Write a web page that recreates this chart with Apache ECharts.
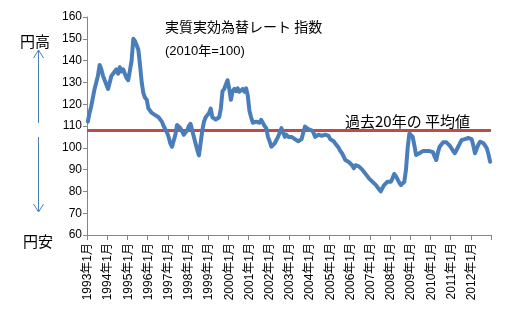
<!DOCTYPE html>
<html>
<head>
<meta charset="utf-8">
<script src="https://cdn.jsdelivr.net/npm/echarts@6/dist/echarts.min.js"></script>
<style>
html,body{margin:0;padding:0;background:#fff;}
#c{width:507px;height:323px;}
</style>
</head>
<body>
<div id="c"></div>
<script>
// Years covered (monthly data, Jan 1993 - Dec 2012)
var years = [1993,1994,1995,1996,1997,1998,1999,2000,2001,2002,2003,2004,2005,2006,2007,2008,2009,2010,2011,2012];
var v1993 = [112,116,119,123,127,130,133,138,136,133,131,129];
var v1994 = [127,130,133,134,135,136,134,137,135,136,134,132];
var v1995 = [131,131,140,150,149,147,145,138,130,125,123,122];
var v1996 = [118,117,116,115.8,115,114.3,114,113,112,110,109.7,107];
var v1997 = [105,102,100.5,101,106,110.5,110,109,108.2,106,106.5,108];
var v1998 = [110,111,108,105,102,99,96.5,97,108,112,114,115];
var v1999 = [116,118,114,113.5,113,113,114,118,126,127,129,131];
var v2000 = [127,122,126,127,126,127.3,125.7,126,127,125.7,127.3,124];
var v2001 = [117,114,111.5,111,112,111.2,111.5,112.8,112,110,109,105];
var v2002 = [103,100.5,101,102,102.8,105,107,109,107,105,106,105];
var v2003 = [105,105,104.5,104,104,103,102.1,104,107,109.7,109,108.5];
var v2004 = [108.2,108,107,105,105.5,106,106.6,105.5,105.1,106,106.6,105.5];
var v2005 = [104,103.6,103,102,101.3,100,98.5,97.5,96,94.4,94,93.5];
var v2006 = [93,92,90.6,92,92.9,91.5,90.6,90,89,88.3,87,86];
var v2007 = [85.2,84.5,84.4,83,82.2,81,80,81.5,82.9,83.5,84.4,84];
var v2008 = [84.4,86,88,87,85.5,84,82.9,83.5,84.4,90,100,106.6];
var v2009 = [106,105,101,96.7,97,97.5,98,98.5,99,98.5,98.2,98.5];
var v2010 = [99,98,96,94.4,98,100.5,101.5,102.5,102.8,102.5,102.1,101];
var v2011 = [99.8,98.5,97.5,99,100.5,102,103.5,104.4,104,104.4,104.5,105.1];
var v2012 = [104,101,97.5,99.5,101.5,102.8,102.5,102.1,101,99.8,97,93.6];
// 20-year average
var avg20 = 108;
// y-axis ticks
var yMin = 60, yMax = 160, yStep = 10;

var values = [].concat(v1993,v1994,v1995,v1996,v1997,v1998,v1999,v2000,v2001,v2002,
  v2003,v2004,v2005,v2006,v2007,v2008,v2009,v2010,v2011,v2012);
var categories = [];
years.forEach(function(y){ for (var m=1;m<=12;m++) categories.push(y+'年'+m+'月'); });

var FONT = '"Liberation Sans","Noto Sans CJK JP",sans-serif';
var JFONT = '"Noto Sans CJK JP",sans-serif';
var chart = echarts.init(document.getElementById('c'), null, {renderer:'canvas'});
var arrowColor = '#4a7ebb';
chart.setOption({
  animation:false,
  backgroundColor:'#fff',
  grid:{left:87,right:16,top:17,bottom:88,containLabel:false},
  xAxis:{
    type:'category',
    data:categories,
    boundaryGap:true,
    axisLine:{lineStyle:{color:'#868686',width:1}},
    axisTick:{show:true,interval:11,length:5,lineStyle:{color:'#868686'}},
    axisLabel:{interval:11,rotate:90,fontSize:12,color:'#000',fontFamily:FONT,margin:8},
    splitLine:{show:false}
  },
  yAxis:{
    type:'value',
    min:yMin,max:yMax,interval:yStep,
    axisLine:{show:true,lineStyle:{color:'#868686',width:1}},
    axisTick:{show:true,length:4,lineStyle:{color:'#868686'}},
    axisLabel:{fontSize:12,color:'#000',fontFamily:FONT,margin:5},
    splitLine:{show:false}
  },
  series:[{
    type:'line',
    data:values,
    showSymbol:false,
    symbol:'none',
    lineStyle:{color:'#4a7ebb',width:4,join:'round',cap:'round'},
    z:3,
    markLine:{
      silent:true,
      symbol:['none','none'],
      label:{show:false},
      lineStyle:{color:'#be4b48',width:3,type:'solid'},
      data:[{yAxis:avg20}],
      z:2
    }
  }],
  graphic:[
    {type:'text',x:165,y:20,style:{text:'実質実効為替レート 指数',font:'14px '+JFONT,fill:'#000',textBaseline:'middle'}},
    {type:'text',x:165,y:45,style:{text:'(2010年=100)',font:'13px '+FONT,fill:'#000',textBaseline:'middle'}},
    {type:'text',x:345,y:114,style:{text:'過去20年の 平均値',font:'15px '+JFONT,fill:'#000',textBaseline:'middle'}},
    {type:'text',x:20,y:34,style:{text:'円高',font:'15px '+JFONT,fill:'#000',textBaseline:'middle'}},
    {type:'text',x:23,y:234,style:{text:'円安',font:'15px '+JFONT,fill:'#000',textBaseline:'middle'}},
    {type:'line',shape:{x1:38.5,y1:51,x2:38.5,y2:123},style:{stroke:arrowColor,lineWidth:1}},
    {type:'polyline',shape:{points:[[33.5,58],[38.5,50],[43.5,58]]},style:{stroke:arrowColor,lineWidth:1,fill:null}},
    {type:'line',shape:{x1:38.5,y1:137,x2:38.5,y2:211},style:{stroke:arrowColor,lineWidth:1}},
    {type:'polyline',shape:{points:[[33.5,204],[38.5,212],[43.5,204]]},style:{stroke:arrowColor,lineWidth:1,fill:null}}
  ]
});
</script>
</body>
</html>
